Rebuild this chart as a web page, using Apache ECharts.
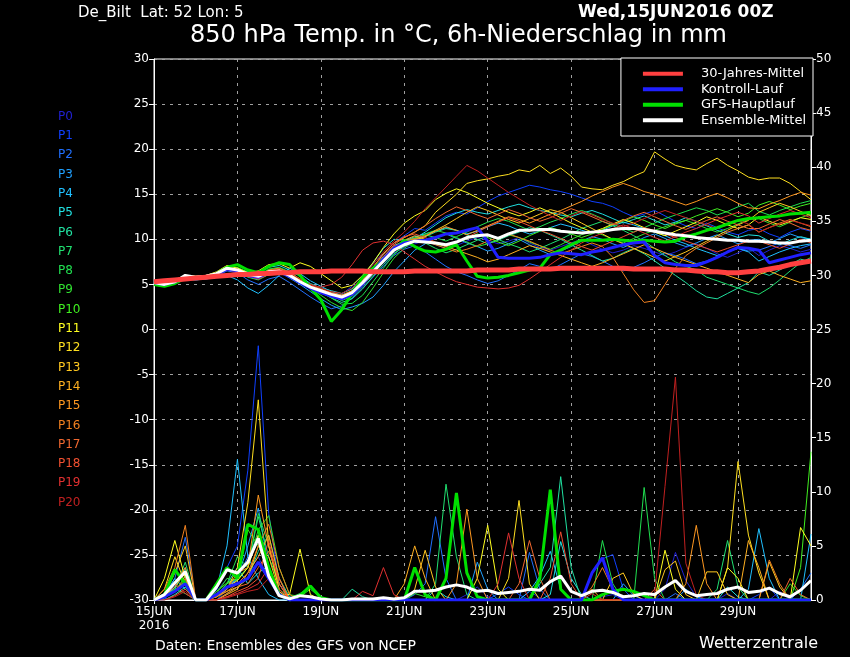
<!DOCTYPE html>
<html>
<head>
<meta charset="utf-8">
<title>De_Bilt 850 hPa Ensembles</title>
<script src="https://cdn.jsdelivr.net/npm/echarts@6/dist/echarts.min.js"></script>
<style>
html, body { margin: 0; padding: 0; background: #000; }
#chartImg { width: 850px; height: 657px; }
</style>
</head>
<body>
<div id="chartImg"></div>
<script>
// time axis: 6-hourly steps from 15JUN 00Z to 30JUN 18Z
var days = ['15JUN','16JUN','17JUN','18JUN','19JUN','20JUN','21JUN','22JUN',
            '23JUN','24JUN','25JUN','26JUN','27JUN','28JUN','29JUN','30JUN'];
var hours = ['00Z','06Z','12Z','18Z'];
var tickLabels = ['15JUN\n2016','17JUN','19JUN','21JUN','23JUN','25JUN','27JUN','29JUN'];

var memberNames = ['P0','P1','P2','P3','P4','P5','P6','P7','P8','P9','P10',
                   'P11','P12','P13','P14','P15','P16','P17','P18','P19','P20'];
var memberColors = ['#2020d0','#1040ff','#2070ff','#20a0ff','#20c0ff','#20e0e0','#20e0a0',
                    '#20e070','#20e050','#30e030','#40f020','#ffff20','#ffe020','#ffc820',
                    '#ffb020','#ff9820','#f08020','#f06830','#f05030','#e03030','#c02020'];

// 850 hPa temperature (°C)
var tempP0 = [5.1,5.0,5.4,5.8,5.6,5.7,6.0,6.6,6.5,5.9,5.6,6.2,6.4,
  5.8,5.1,4.5,4.0,3.6,3.3,3.9,5.1,6.3,7.4,8.5,9.1,9.5,
  9.8,9.4,9.0,9.3,9.8,10.2,9.9,9.5,9.8,10.2,9.6,9.1,8.8,
  9.2,9.6,10.0,9.4,8.9,8.5,8.8,9.3,9.0,8.6,8.2,8.6,9.1,
  9.5,9.0,8.4,8.0,8.5,9.1,8.2,8.8,9.3,9.0,8.6,8.9];
var tempP1 = [5.3,5.1,5.2,5.7,5.9,6.0,6.3,6.9,6.7,6.1,5.9,6.5,6.6,
  6.2,5.5,4.9,4.2,3.8,3.9,4.8,6.0,7.3,8.4,9.6,10.4,11.2,
  11.0,11.8,12.6,13.0,12.8,13.5,14.2,14.8,15.2,15.6,16.0,15.8,15.5,
  15.3,15.0,14.6,14.2,14.0,13.6,13.0,12.5,12.8,13.2,12.6,12.0,11.5,
  11.2,11.8,11.3,10.8,10.5,11.0,11.2,10.6,10.2,10.8,11.2,10.9];
var tempP2 = [5.0,4.9,5.2,5.9,5.6,5.6,5.9,6.5,6.3,5.5,5.0,5.6,5.9,
  5.2,4.4,3.6,2.9,2.3,2.6,3.5,4.6,5.8,7.0,8.2,8.9,9.3,
  8.6,7.8,7.0,6.4,6.0,5.5,5.1,5.4,6.0,6.6,7.3,7.0,6.6,
  7.2,7.8,8.4,8.1,7.6,7.0,6.5,6.9,7.4,8.0,8.5,8.2,7.8,
  7.3,7.6,8.1,8.6,9.0,8.7,8.8,9.2,9.6,9.3,9.0,9.4];
var tempP3 = [5.2,5.0,5.3,5.8,5.8,5.9,6.2,6.7,6.5,6.1,5.8,6.3,6.4,
  5.7,5.0,4.2,3.4,2.7,2.2,2.5,2.9,3.6,4.9,6.4,7.6,8.8,
  9.5,10.2,10.6,10.1,9.6,9.2,8.7,9.0,9.5,10.0,9.4,8.8,8.3,
  8.7,9.2,9.8,10.3,10.0,9.5,9.1,9.6,10.2,10.6,10.1,9.6,9.2,
  9.6,10.1,10.5,10.0,9.5,9.9,10.0,9.6,10.1,10.6,10.2,10.0];
var tempP4 = [5.2,5.1,5.3,5.6,5.5,5.6,5.8,6.0,5.5,4.6,4.0,4.9,6.0,
  6.8,6.2,5.4,4.8,4.2,3.8,4.2,5.3,6.7,8.1,9.3,9.8,10.3,
  10.6,10.9,11.3,11.0,10.6,10.9,11.4,11.8,11.5,11.0,10.6,10.9,11.3,
  11.7,11.4,11.0,10.7,11.0,11.5,11.9,11.6,11.2,10.8,10.4,9.9,9.5,
  9.0,8.6,8.2,8.6,9.0,8.6,7.6,8.1,8.6,9.0,9.3,9.5];
var tempP5 = [5.3,5.1,5.3,5.9,5.8,5.9,6.3,6.9,6.8,6.4,6.2,6.9,7.1,
  6.6,5.9,5.1,4.6,4.3,4.0,4.5,5.8,7.4,9.0,10.0,9.9,10.1,
  10.8,11.6,12.4,12.9,13.3,13.0,12.8,13.2,13.6,13.9,13.5,13.2,13.0,
  12.7,12.5,12.9,13.2,12.8,12.3,11.8,12.2,12.6,12.1,11.6,11.9,12.4,
  12.0,11.5,11.0,10.6,10.2,10.5,10.4,9.8,9.4,9.9,10.3,10.0];
var tempP6 = [5.1,5.0,5.2,5.8,5.7,5.9,6.2,6.9,6.7,6.0,5.7,6.2,6.3,
  5.9,5.2,4.6,4.1,3.5,3.0,3.4,4.5,5.9,7.2,8.4,9.2,9.8,
  10.3,10.8,11.2,11.0,10.5,10.0,9.5,9.9,10.4,10.8,11.3,11.0,10.5,
  10.0,9.4,8.8,8.2,7.6,7.9,8.5,9.0,8.4,7.6,6.8,6.0,5.2,
  4.3,3.6,3.4,4.0,4.6,5.2,6.4,6.0,6.6,7.2,7.8,7.5];
var tempP7 = [5.2,5.0,5.3,5.9,5.8,5.8,6.1,6.8,6.5,5.8,5.5,6.1,6.6,
  6.3,5.6,5.0,4.5,3.8,3.2,3.7,4.9,6.2,7.8,9.0,9.7,10.0,
  9.6,9.0,8.5,8.9,9.4,9.9,10.4,10.0,9.5,9.1,8.6,9.0,9.5,
  10.0,10.6,11.2,11.6,12.0,11.5,11.0,10.4,9.8,9.0,8.2,7.5,7.0,
  6.6,5.8,5.4,5.0,4.6,4.2,3.9,4.6,5.5,6.5,7.4,8.0];
var tempP8 = [5.3,5.0,5.4,6.0,5.9,5.9,6.3,7.0,6.8,6.2,6.0,6.7,6.9,
  6.4,5.6,4.9,4.3,3.5,2.8,2.9,3.8,5.3,6.8,8.3,9.4,10.1,
  10.5,10.2,9.8,10.3,10.8,11.4,11.9,12.3,12.0,11.5,11.0,11.4,11.9,
  12.3,12.8,13.2,12.8,12.3,11.7,11.2,10.8,11.3,11.8,12.3,12.7,13.1,
  13.5,13.2,12.7,13.1,13.6,14.0,13.1,12.7,13.2,13.6,14.0,14.3];
var tempP9 = [5.1,4.9,5.2,5.8,5.6,5.7,6.0,6.7,6.6,6.0,5.9,6.6,6.7,
  6.2,5.4,4.6,3.8,3.0,2.4,2.1,3.0,4.6,6.3,7.9,9.0,9.9,
  10.6,11.0,10.7,10.2,9.7,9.2,9.5,10.0,10.5,10.2,9.7,9.3,8.9,
  9.4,10.0,10.5,10.9,10.5,10.0,9.6,10.1,10.6,11.0,11.4,11.8,12.1,
  11.7,11.2,10.8,11.2,11.7,12.2,12.3,11.8,11.4,11.9,12.4,12.8];
var tempP10 = [5.0,4.8,5.1,5.7,5.6,5.8,6.2,7.0,6.9,6.3,6.0,6.6,6.8,
  6.3,5.6,5.0,4.4,3.9,3.4,3.7,4.8,6.1,7.5,8.8,9.7,10.2,
  9.9,9.5,9.2,9.6,10.1,10.6,10.2,9.7,9.3,9.8,10.4,10.9,11.3,
  11.0,10.6,10.2,10.6,11.1,11.6,12.0,12.5,12.1,11.6,11.2,11.7,12.1,
  12.6,13.0,13.4,13.0,12.5,12.9,13.8,14.2,13.8,13.3,13.7,14.0];
var tempP11 = [5.2,5.0,5.4,6.0,5.9,6.0,6.4,7.1,6.8,6.3,6.5,7.2,7.3,
  6.8,7.4,7.0,6.2,5.4,4.6,4.9,6.0,7.4,9.1,10.6,11.8,12.6,
  13.2,14.4,15.1,15.6,15.2,14.6,14.0,13.5,13.0,12.6,13.0,13.5,13.0,
  12.4,11.8,11.3,10.8,11.2,11.7,12.2,11.8,11.3,10.8,10.4,10.9,11.4,
  11.9,12.5,12.1,11.6,11.2,11.6,12.5,12.0,11.6,12.0,12.4,12.2];
var tempP12 = [5.3,5.1,5.4,5.9,5.8,5.9,6.3,6.9,6.6,6.1,5.9,6.5,6.7,
  6.2,5.5,4.9,4.4,4.0,3.8,4.3,5.5,6.9,8.4,9.6,10.2,10.8,
  11.5,13.0,14.0,15.0,16.2,16.5,16.7,17.0,17.2,17.7,17.5,18.2,17.3,
  17.9,17.0,15.8,15.6,15.5,16.0,16.4,17.0,17.5,19.7,18.9,18.2,17.9,
  17.7,18.4,19.0,18.2,17.6,16.9,16.6,16.8,16.8,16.2,15.3,14.4];
var tempP13 = [5.1,4.9,5.2,5.8,5.7,5.8,6.1,6.7,6.5,6.0,5.8,6.4,6.6,
  6.1,5.4,4.8,4.3,3.9,3.5,3.8,4.9,6.2,7.6,8.9,9.6,9.9,
  10.3,11.0,11.6,12.3,13.0,13.6,13.2,12.7,12.2,11.8,12.3,12.8,13.3,
  13.0,12.4,11.8,11.2,10.6,10.0,9.5,9.0,8.5,8.0,7.6,8.1,8.6,
  9.2,9.8,10.4,11.0,11.6,12.1,13.0,13.5,14.0,13.6,13.1,12.6];
var tempP14 = [5.2,5.0,5.3,5.9,5.8,5.9,6.2,6.8,6.7,6.1,5.7,6.2,6.4,
  6.0,5.3,4.7,4.2,3.8,3.6,4.2,5.3,6.6,7.9,9.1,9.9,10.4,
  10.0,9.6,9.2,8.8,8.4,8.0,7.5,7.8,8.3,8.8,9.3,9.0,8.6,
  8.2,7.8,7.4,7.0,7.4,7.9,8.4,8.9,9.4,9.0,8.5,8.0,7.6,
  7.2,6.8,6.4,6.0,5.6,5.2,6.1,6.5,6.0,5.6,5.2,5.4];
var tempP15 = [5.3,5.1,5.3,5.9,5.7,5.8,6.1,6.8,6.6,6.0,5.8,6.4,6.5,
  6.0,5.3,4.8,4.4,4.0,3.7,4.1,5.2,6.5,7.8,9.0,9.6,10.0,
  10.4,10.9,11.4,11.0,10.5,11.0,11.5,12.0,12.5,12.2,11.8,12.3,12.8,
  13.2,13.7,14.2,14.8,15.3,15.8,16.2,15.8,15.3,15.0,14.6,14.2,13.8,
  14.2,14.7,15.1,14.6,14.0,13.5,13.4,13.9,14.3,14.8,15.2,14.9];
var tempP16 = [5.2,5.0,5.4,6.0,5.9,6.0,6.3,6.9,6.7,6.2,6.0,6.6,6.8,
  6.3,5.6,5.0,4.5,4.1,3.8,4.3,5.5,6.8,8.0,9.2,9.8,10.1,
  9.8,9.4,9.0,8.6,8.9,9.3,9.8,10.2,10.6,10.2,9.8,9.3,8.8,
  8.4,8.8,9.2,9.6,9.2,8.0,6.2,4.4,3.0,3.2,5.0,6.8,8.2,
  9.0,9.6,10.2,10.8,11.2,11.6,10.8,11.3,11.8,12.2,11.8,11.4];
var tempP17 = [5.1,4.9,5.3,5.8,5.7,5.8,6.1,6.8,6.5,5.9,5.6,6.1,6.3,
  5.9,5.3,4.8,4.2,3.7,3.4,3.9,5.1,6.6,8.0,9.4,10.2,10.8,
  11.5,12.3,13.0,13.6,13.2,12.7,12.3,12.8,13.3,12.9,12.4,12.0,12.4,
  12.9,13.4,13.0,12.5,12.0,11.6,12.1,12.6,13.0,12.5,12.0,11.5,11.1,
  11.6,12.1,12.5,12.0,11.6,11.2,11.2,11.7,12.2,11.8,11.3,11.0];
var tempP18 = [5.3,5.1,5.4,5.9,5.8,5.9,6.2,6.9,6.7,6.1,5.9,6.5,6.6,
  6.1,5.4,4.9,4.4,4.0,3.7,4.2,5.4,6.9,8.3,9.6,10.3,10.6,
  10.2,9.7,9.2,9.7,10.2,10.8,11.4,11.9,12.4,12.0,11.5,11.0,10.6,
  10.1,9.6,9.2,8.8,9.3,9.8,10.3,10.8,11.3,11.0,10.6,10.2,9.8,
  9.4,9.0,8.6,9.0,9.4,9.8,9.8,9.4,9.0,9.5,10.0,9.6];
var tempP19 = [5.2,5.0,5.2,5.8,5.6,5.7,6.0,6.6,6.4,5.9,5.6,6.2,6.4,
  6.0,5.4,4.9,4.7,5.0,5.8,7.2,8.8,9.6,9.8,9.4,8.6,7.8,
  7.0,6.4,5.8,5.3,5.0,4.7,4.6,4.5,4.6,4.9,5.6,6.4,7.2,
  8.0,8.8,9.6,10.2,10.7,11.2,11.6,11.2,10.7,10.2,9.8,10.3,10.8,
  11.2,11.7,12.2,12.6,13.0,12.6,11.8,12.3,12.8,13.2,12.8,12.4];
var tempP20 = [5.3,5.1,5.3,5.9,5.8,5.9,6.3,6.9,6.7,6.1,5.9,6.5,6.7,
  6.2,5.6,5.0,4.6,4.2,4.0,4.6,5.8,7.2,8.6,9.8,10.8,12.0,
  13.4,14.6,15.8,17.0,18.2,17.6,16.8,16.0,15.2,14.5,13.8,13.2,12.6,
  12.1,12.6,13.1,12.7,12.2,11.8,11.4,11.8,12.3,12.8,13.2,12.8,12.4,
  12.0,11.6,11.2,11.6,12.1,11.7,10.8,11.3,11.7,12.1,11.8,11.5];

var tempControl = [5.2,5.0,5.3,5.8,5.6,5.8,6.1,6.7,6.5,6.0,5.8,6.3,6.4,
  5.9,5.2,4.6,4.1,3.7,3.4,3.9,5.0,6.4,7.8,9.0,9.6,9.8,
  9.9,10.2,10.6,10.7,11.0,11.3,9.8,8.0,7.9,7.9,7.9,8.0,8.3,
  8.5,8.4,8.3,8.6,8.8,9.1,9.4,9.6,9.7,8.2,7.4,7.2,7.1,
  7.1,7.5,8.0,8.6,9.1,9.0,8.8,7.4,7.7,8.0,8.3,8.5];
var tempGfs = [5.0,4.8,5.1,5.7,5.6,5.8,6.2,6.9,7.2,6.6,6.3,7.0,7.4,
  7.2,6.0,4.6,3.3,0.9,2.2,4.0,5.8,6.8,7.7,8.8,9.9,9.2,
  8.7,8.6,8.9,9.4,7.6,5.9,5.7,5.8,6.0,6.3,6.6,6.8,8.3,
  8.8,9.4,9.9,9.9,9.9,10.0,9.9,9.8,9.9,9.8,9.7,9.8,10.3,
  10.6,11.0,11.3,11.7,12.1,12.3,12.4,12.5,12.6,12.8,12.9,13.0];
var tempMean = [5.2,5.0,5.3,6.0,5.8,5.9,6.2,6.8,6.6,6.1,5.9,6.4,6.5,
  6.0,5.3,4.7,4.3,3.9,3.6,4.1,5.2,6.4,7.6,8.8,9.4,9.8,
  9.7,9.6,9.4,9.7,10.2,10.4,10.5,10.1,10.6,11.0,11.0,11.1,11.1,
  10.9,10.8,10.7,10.8,10.9,11.1,11.2,11.2,11.1,10.9,10.7,10.5,10.4,
  10.2,10.1,10.0,9.9,9.9,9.8,9.8,9.7,9.6,9.6,9.8,9.9];
var tempClimate = [5.3,5.4,5.5,5.6,5.7,5.8,5.9,6.0,6.1,6.1,6.2,6.2,6.3,
  6.3,6.4,6.4,6.4,6.5,6.5,6.5,6.5,6.4,6.4,6.4,6.4,6.5,
  6.5,6.5,6.5,6.5,6.5,6.6,6.6,6.6,6.6,6.7,6.7,6.7,6.7,
  6.8,6.8,6.8,6.8,6.8,6.8,6.8,6.7,6.7,6.7,6.7,6.6,6.6,
  6.5,6.4,6.4,6.3,6.3,6.4,6.5,6.7,6.9,7.2,7.4,7.6];

// 6h precipitation (mm)
var rainP0 = [0,0.3,1.0,1.5,0,0,0.8,2.0,1.5,2.5,4.0,2.0,0.5,
  0,0,0,0,0,0,0,0,0,0,0,0,0,
  0,0,0,0,0.5,1.2,0.3,0,0,0,0.8,0.2,0,
  0,0,0,0,0.3,0.5,0,0,0,0,1.0,4.4,1.8,
  0.3,0,0,0.6,0,0,0,0,0.8,0,0,0];
var rainP1 = [0,0,1.5,2.5,0,0,1.0,3.0,5.0,12.0,23.5,8.0,1.5,
  0.3,0,0,0,0,0,0,0,0,0,0,0,0,
  0,0,0,0,0,0,0,0.6,1.2,0.5,0,0,0,
  0,0,0,2.5,3.8,4.2,1.0,0,0,0,0,0,0,
  0,0,0,0,0,0,0.5,1.2,0,0,0,0];
var rainP2 = [0,0.5,2.0,5.8,0,0,0,1.0,2.0,4.0,6.0,3.0,0.5,
  0,0,0,0,0,0,0,0,0,0,0,0,0.5,
  1.5,7.7,2.0,0,0,0,0,0,0,0,4.4,1.0,0,
  0,0,0,0,0,0,0,0,0,0,0,0.6,0,
  0,0,0,0,0,0,0,0,0,0,1.0,2.5];
var rainP3 = [0,0.2,1.2,3.0,0,0,0.5,1.2,2.0,5.0,8.5,3.0,0.8,
  0,0,0,0,0,0,0,0,0,0,0,0,0,
  0,0,0,0,0,3.5,1.0,0,0,0,0,0,0,
  0,0,0,0,0,0,1.5,0.4,0,0,0,0,1.0,
  0.3,0,0,0,0,0,0,0,0,0,0,0];
var rainP4 = [0,0.4,2.0,1.0,0,0,1.0,5.0,13.0,4.0,2.0,0.5,0,
  0,0,0,0,0,0,0,0,0,0,0,0,0,
  0,0,0,0,0,0,0,0,0,0,0.8,2.2,4.5,
  1.0,0,0,0,0,0,0,0,0,0,0,0,0,
  0,0,0,0,0,1.0,6.6,2.0,0,0,0,6.1];
var rainP5 = [0,0,0.5,1.2,0,0,0.4,1.5,3.0,1.5,2.5,3.2,0.6,
  0,0,0,0,0,0,0,0,0,0,0,0,0,
  0,1.0,0.3,0,0,0,0,0,0,0,0,0,0.5,
  5.4,2.0,0.5,0,0,0,0,0,0,0,0,0,0,
  0,0,0,1.2,0.3,0,0,0,0,0,0,0];
var rainP6 = [0,0.3,1.0,2.8,0,0,0,0.6,1.2,2.0,4.5,6.0,2.0,
  0.3,0,0,0,0,0,1.0,0.3,0,0,0,0,0,
  0,0,0,0,0,0,0,0,0,0,0,1.5,3.0,
  11.4,3.0,0,0,0,0,0,0,0,0,0,0,0,
  0,0,0,0,0,0,0,0,0,0,0,0];
var rainP7 = [0,0.2,1.0,3.5,0,0,0.5,1.5,2.0,3.0,7.7,4.0,1.5,
  0,0,0,0,0,0,0,0,0,0,0,0,0,
  0,1.5,10.7,4.0,0.5,0,0,0,0,0,0,0,0,
  0,0,0,0,0,0,0,0,0,0,0,0,0,
  0,0,1.0,5.5,1.2,0,0,0,0,0,0,0];
var rainP8 = [0,0.3,1.0,0.6,0,0,0.5,1.5,4.0,3.0,8.0,5.0,1.0,
  0.2,0.6,1.2,0.3,0,0,0,0,0,0,0,0,0,
  0,0,0,0,0,0,0,0,0,0,0,0,0,
  0,0,0,0,5.5,1.5,0,0,10.4,2.0,0,0,0,
  0,0,0,0,0,0,0,0,0,0,0,0];
var rainP9 = [0,0.2,0.8,2.2,0,0,0.6,2.0,1.8,3.0,6.5,7.8,3.0,
  0.5,0.3,1.0,0.2,0,0,0,0,0,0,0,0,0.6,
  0.3,0,0,0,0,0,0,0,0,0,0,0,0,
  0,0,0,0,0,0,0,0,0,0,0,0,0,
  0,0,0,0,0,0,0,0,0,1.5,0.4,0];
var rainP10 = [0,0.3,0.8,1.8,0,0,0.8,1.6,2.0,6.5,5.0,3.0,0.5,
  0,0,0,0,0,0,0,0,0,0,0,0,0,
  0,0,0,0,0,0,0,0,0,0,0,0,0,
  0,0,0,0,0,0,0,0,0,0,0,0,0,
  0,0,0,0,0,0,0,0,0,0,3.0,13.7];
var rainP11 = [0,2.0,5.5,2.0,0,0,0.5,1.2,1.8,3.0,6.0,2.5,0.5,
  0.5,4.7,0.5,0,0,0,0,0,0,0,0,0,0,
  0,0,0,0,0,2.0,6.9,1.0,0,0,0,0,0,
  0,0,0,0,0,0,0,0,0,0,4.6,1.0,0,
  0,0,0,3.0,2.0,0,0,0,0,0,6.7,5.0];
var rainP12 = [0,1.0,4.0,1.5,0,0,0.3,1.0,3.0,9.0,18.5,5.0,1.0,
  0,0,0,0,0,0,0,0,0,0,0,0,0,
  0,0,0,0,0,0,0,0,2.0,9.2,1.5,0,0,
  0,0,0,0,0,0,0,0,0,0,0,0,0,
  0,0,0,3.0,12.8,6.0,2.5,0,0,0,0,0];
var rainP13 = [0,0.5,2.5,5.0,0,0,0.3,0.8,1.2,2.0,5.0,4.0,0.8,
  0,0,0,0,0,0,0,0,0,0,0,0,1.0,
  4.6,1.2,0,0,0,0,0,0,0,0,0,0,0,
  0,0,0,0,0,2.0,2.5,0.5,0,0,2.8,3.6,0.5,
  0,2.6,2.6,0.5,0,0,0,3.5,1.2,0,0,0];
var rainP14 = [0,0.4,1.2,2.5,0,0,0,0.5,1.0,2.5,4.0,6.0,2.0,
  0,0,0,0,0,0,0,0,0,0,0,1.5,5.0,
  2.0,0,0,0,0,0,0,0,0,0,0,0,0,
  0,0,0,1.0,0,0,0,0,0,0,0,0,0,
  0,0,0,0,0,5.5,3.0,0,0,0,0,0];
var rainP15 = [0,0.5,1.5,3.0,0,0,0.4,1.0,2.5,3.0,9.7,5.0,1.5,
  0,0,0,0,0,0,0,0,0,0,0,0,0,
  0,0,0,1.5,8.4,2.0,0,0,0,0,0,0,0,
  0,0,0,0,0,0,0,0,0,0,0,0,1.5,
  6.9,1.5,0,0,0,0,0,0,0,0,0,0];
var rainP16 = [0,1.0,3.0,6.9,0,0,0.3,0.8,1.5,2.5,5.0,7.0,3.0,
  0.5,0,0,0,0,0,0,0,0,0,0,0,0,
  0,0,0,0,0,0,0,0,0,0,0,0,0,
  0,0,0,1.2,3.0,1.0,0,0,0,0,0,0,0,
  0,0,0,0,0,0,0,3.7,1.5,0,0,0];
var rainP17 = [0,0.3,0.8,2.0,0,0,0,0.6,1.2,1.5,3.0,4.5,2.0,
  0,0,0,0,0,0,0,0,0,0,0,0,0,
  0,0,0,0,0,0,0,0,0,1.5,5.5,2.0,0,
  0,0,0,0,0,0,0,0,0,0,0,0,0,
  0,0,0,0,0,0,0,0,0,2.0,0.5,0];
var rainP18 = [0,0,0.4,1.0,0,0,0,0.3,0.8,1.2,2.0,5.5,1.5,
  0,0,0,0,0,0,0,0,0,0,0,0,0,
  0,0,0,0,0,0,0,0,0,0,0,0,2.0,
  6.3,1.5,0,0,0,0,0,0,0,1.0,0,0,0,
  0,0,0,0,0,0,0,0,0,0,0,0];
var rainP19 = [0,0.5,1.5,0.6,0,0,0,0.3,0.6,1.0,1.5,3.0,1.0,
  0,0,0,0,0,0,0,0.8,0.4,3.0,0.5,0,0,
  0,0,0,0,0,0,0,1.5,6.2,2.0,0,0,0,
  0,0,0,0.6,0,0,0,0,0,0,0,0,0,
  0,0,0,0,0,0,0,0,0,0,0,0];
var rainP20 = [0,0,0.3,0.8,0,0,0,0.2,0.5,0.8,1.0,2.0,0.5,
  0,0,0,0,0,0,0,0,0,0,0,0,0,
  0,0,0,0,0,0,0,0,0,0,0,0,0,
  0,0,0,0,0,0,0,0,0,0.5,10.5,20.6,3.4,
  0.5,0,0,0,0,0,0,0,0,0,0,0];

var rainControl = [0,0.3,0.8,1.5,0,0,0.5,1.2,1.5,2.0,3.5,2.0,0.5,
  0,0,0,0,0,0,0,0,0,0,0,0,0,
  0,0,0,0,0,0,0,0,0,0,0,0,0,
  0,0,0,2.5,3.9,1.0,0,0,0,0,0,0,0,
  0,0,0,0,0,0,0,0,0,0,0,0];
var rainGfs = [0,0.5,2.8,1.5,0,0,1.5,3.0,2.0,7.0,6.5,3.0,0.5,
  0,0.4,1.3,0.2,0,0,0,0,0,0,0,0,3.0,
  0.5,0,2.0,9.9,2.5,0.3,0,0,0,0,0,2.0,10.2,
  1.0,0,0,0,0.5,0.8,1.0,0.8,0.4,0,0,0,0,
  0,0,0,0,0,0,0,0,0,0,0,0];
var rainMean = [0,0.5,1.6,2.6,0,0,1.2,2.8,2.5,3.5,5.7,2.2,0.4,
  0.1,0.4,0.3,0.1,0,0,0.1,0.1,0.1,0.2,0.1,0.2,0.8,
  0.8,0.9,1.2,1.4,1.2,0.8,0.9,0.6,0.7,0.8,1.0,0.9,1.7,
  2.2,0.8,0.4,0.8,0.9,0.7,0.3,0.4,0.6,0.5,1.2,1.8,0.8,
  0.4,0.5,0.6,1.0,1.2,0.7,0.8,1.1,0.6,0.3,0.9,1.8];

var memberTemp = [tempP0,tempP1,tempP2,tempP3,tempP4,tempP5,tempP6,tempP7,tempP8,tempP9,tempP10,
  tempP11,tempP12,tempP13,tempP14,tempP15,tempP16,tempP17,tempP18,tempP19,tempP20];
var memberRain = [rainP0,rainP1,rainP2,rainP3,rainP4,rainP5,rainP6,rainP7,rainP8,rainP9,rainP10,
  rainP11,rainP12,rainP13,rainP14,rainP15,rainP16,rainP17,rainP18,rainP19,rainP20];

var categories = [];
days.forEach(function (d) {
  hours.forEach(function (h) { categories.push(d + ' ' + h); });
});

var FONT = 'DejaVu Sans';
var GRID_LINE = { color: '#a0a0a0', type: [3, 5], width: 1 };

function lineSeries(name, data, color, width, axis) {
  return {
    name: name, type: 'line', data: data, yAxisIndex: axis,
    color: color, symbol: 'none', silent: true,
    lineStyle: { color: color, width: width },
    emphasis: { disabled: true }
  };
}

var series = [];
memberNames.forEach(function (n, k) {
  series.push(lineSeries(n, memberRain[k], memberColors[k], 1, 1));
});
memberNames.forEach(function (n, k) {
  series.push(lineSeries(n, memberTemp[k], memberColors[k], 1, 0));
});
series.push(lineSeries('GFS-Hauptlauf', rainGfs, '#00e000', 3, 1));
series.push(lineSeries('GFS-Hauptlauf', tempGfs, '#00e000', 3, 0));
series.push(lineSeries('Kontroll-Lauf', rainControl, '#2020ff', 3, 1));
series.push(lineSeries('Kontroll-Lauf', tempControl, '#2020ff', 3, 0));
series.push(lineSeries('Ensemble-Mittel', rainMean, '#ffffff', 3, 1));
series.push(lineSeries('Ensemble-Mittel', tempMean, '#ffffff', 3, 0));
series.push(lineSeries('30-Jahres-Mittel', tempClimate, '#ff4040', 5, 0));

var myChart = echarts.init(document.getElementById('chartImg'));
var option = {
  backgroundColor: '#000',
  animation: false,
  grid: { left: 154, right: 39, top: 59, bottom: 57, show: true, borderColor: '#fff', borderWidth: 1 },
  graphic: [
    { type: 'text', left: 78, top: 6, style: { text: 'De_Bilt  Lat: 52 Lon: 5', fill: '#fff', font: '15px ' + FONT } },
    { type: 'text', left: 578, top: 4, style: { text: 'Wed,15JUN2016 00Z', fill: '#fff', font: 'bold 17px ' + FONT } },
    { type: 'text', left: 190, top: 24, style: { text: '850 hPa Temp. in °C, 6h-Niederschlag in mm', fill: '#fff', font: '24px ' + FONT } },
    { type: 'text', left: 155, top: 639, style: { text: 'Daten: Ensembles des GFS von NCEP', fill: '#fff', font: '14px ' + FONT } },
    { type: 'text', left: 699, top: 636, style: { text: 'Wetterzentrale', fill: '#fff', font: '16px ' + FONT } }
  ],
  legend: [
    {
      orient: 'vertical', right: 37, top: 58,
      backgroundColor: '#000', borderColor: '#fff', borderWidth: 1,
      padding: [8, 7, 8, 22], icon: 'rect', itemWidth: 40, itemHeight: 4, itemGap: 0,
      selectedMode: false,
      textStyle: { color: '#fff', fontSize: 13, fontFamily: FONT, lineHeight: 15.5, padding: [0, 0, 0, 13] },
      data: ['30-Jahres-Mittel', 'Kontroll-Lauf', 'GFS-Hauptlauf', 'Ensemble-Mittel']
    },
    {
      orient: 'vertical', left: 53, top: 107, padding: 0,
      icon: 'rect', itemWidth: 0, itemHeight: 0, itemGap: 0,
      selectedMode: false,
      textStyle: { fontSize: 12, fontFamily: FONT, lineHeight: 19.3 },
      data: memberNames.map(function (n, k) {
        return { name: n, textStyle: { color: memberColors[k] } };
      })
    }
  ],
  xAxis: {
    type: 'category', data: categories, boundaryGap: false,
    axisLine: { onZero: false, lineStyle: { color: '#fff' } },
    axisTick: { show: true, interval: 7, length: 4, lineStyle: { color: '#fff' } },
    axisLabel: {
      interval: 7, color: '#fff', fontSize: 12, fontFamily: FONT, lineHeight: 14, margin: 5,
      formatter: function (v, i) { return tickLabels[i / 8]; }
    },
    splitLine: { show: true, interval: 7, lineStyle: GRID_LINE }
  },
  yAxis: [
    {
      type: 'value', min: -30, max: 30, interval: 5, position: 'left',
      axisLine: { show: true, lineStyle: { color: '#fff' } },
      axisTick: { show: true, length: 5, lineStyle: { color: '#fff' } },
      axisLabel: { color: '#fff', fontSize: 12, fontFamily: FONT, margin: 5 },
      splitLine: { show: true, lineStyle: GRID_LINE }
    },
    {
      type: 'value', min: 0, max: 50, interval: 5, position: 'right',
      axisLine: { show: true, lineStyle: { color: '#fff' } },
      axisTick: { show: true, length: 5, lineStyle: { color: '#fff' } },
      axisLabel: { color: '#fff', fontSize: 12, fontFamily: FONT, margin: 5 },
      splitLine: { show: false }
    }
  ],
  series: series
};
myChart.setOption(option);
</script>
</body>
</html>
